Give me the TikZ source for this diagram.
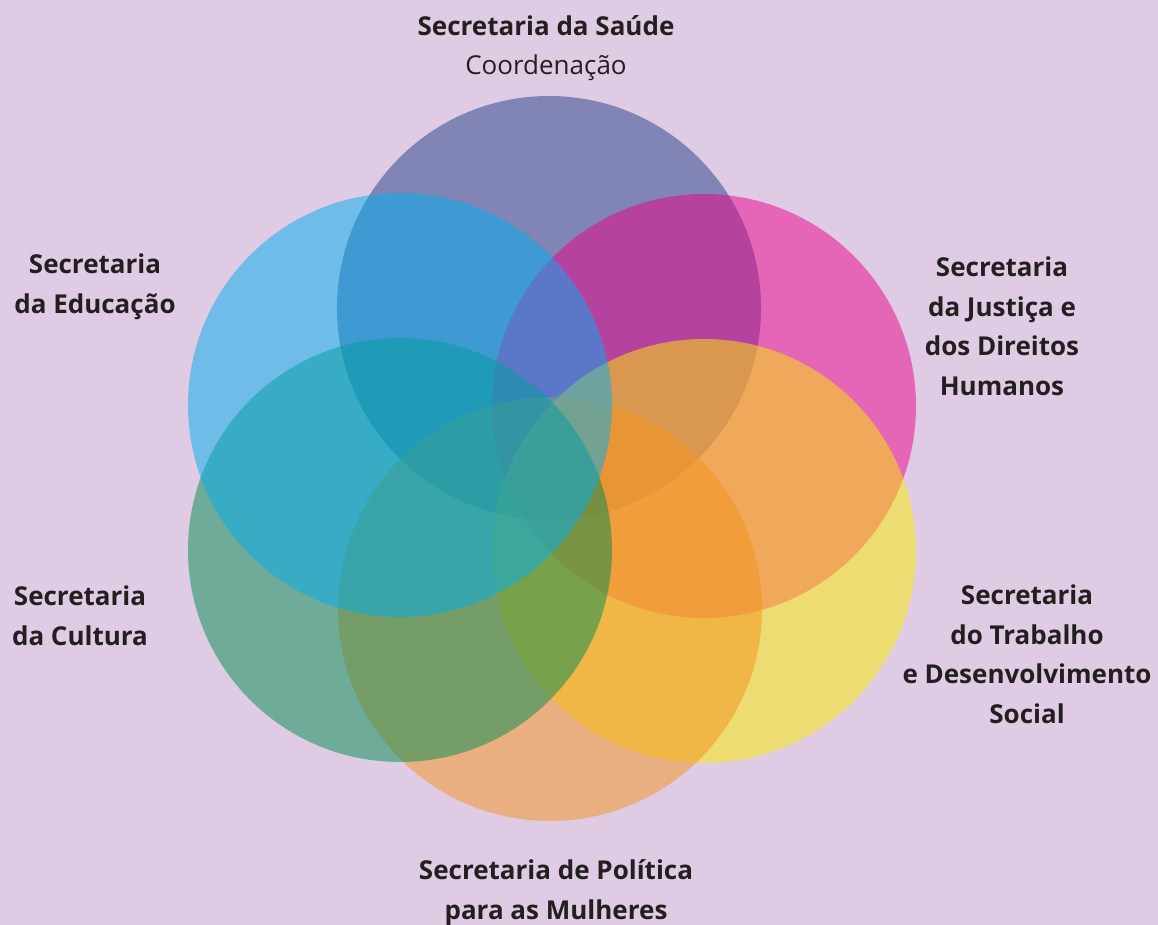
\documentclass[tikz,border=0pt]{standalone}
\usepackage{fontspec}
\setmainfont{Open Sans}
\usepackage{tikz}

\definecolor{fundo}{RGB}{223,204,228}
\definecolor{tinta}{RGB}{35,31,32}
\definecolor{saude}{RGB}{35,63,135}
\definecolor{educacao}{RGB}{0,174,239}
\definecolor{justica}{RGB}{236,0,140}
\definecolor{trabalho}{RGB}{252,236,0}
\definecolor{mulheres}{RGB}{245,148,29}
\definecolor{cultura}{RGB}{0,140,80}

\tikzset{
  disco/.style={fill=#1, fill opacity=0.5},
  rotulo/.style={text=tinta, align=center, anchor=base, inner sep=0pt,
    font=\fontsize{26}{39.5}\selectfont\bfseries}
}

\begin{document}
\begin{tikzpicture}[x=1pt,y=-1pt]
    \fill[fundo] (0,0) rectangle (1158,925);
    \useasboundingbox (0,0) rectangle (1158,925);

    \coordinate (S) at (549, 308); % saude
    \coordinate (E) at (400, 405); % educacao
    \coordinate (J) at (704, 406); % justica
    \coordinate (C) at (400, 550); % cultura
    \coordinate (T) at (704, 551); % trabalho
    \coordinate (M) at (550, 609); % mulheres

    \fill[disco=saude] (S) circle (212);
    \fill[disco=justica] (J) circle (212);
    \fill[disco=trabalho] (T) circle (212);
    \fill[disco=mulheres] (M) circle (212);
    \fill[disco=cultura] (C) circle (212);
    \fill[disco=educacao] (E) circle (212);

    % base = baseline of the last line
    \node[rotulo] (lS) at (546, 75) {Secretaria da Saúde\\\mdseries Coordenação};
    \node[rotulo] (lE) at (95, 313) {Secretaria\\da Educação};
    \node[rotulo] (lJ) at (1002, 395) {Secretaria\\da Justiça e\\dos Direitos\\Humanos};
    \node[rotulo] (lC) at (80, 645) {Secretaria\\da Cultura};
    \node[rotulo] (lT) at (1027, 723) {Secretaria\\do Trabalho\\e Desenvolvimento\\Social};
    \node[rotulo] (lM) at (556, 919) {Secretaria de Política\\para as Mulheres};
\end{tikzpicture}
\end{document}
